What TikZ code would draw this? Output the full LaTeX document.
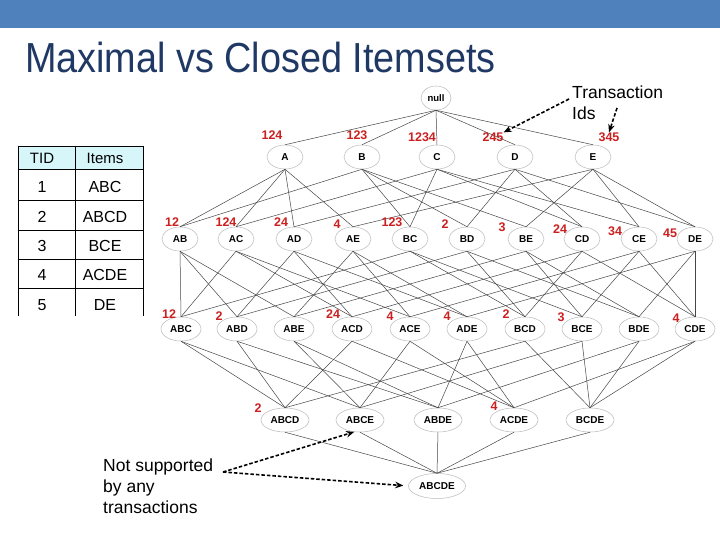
\documentclass[tikz,border=0pt]{standalone}
\usepackage{fontspec}
\setmainfont{Liberation Sans}
\usetikzlibrary{shapes.geometric,arrows.meta}
\definecolor{barblue}{RGB}{79,129,189}
\definecolor{titleblue}{RGB}{31,56,100}
\definecolor{hdrcyan}{RGB}{214,246,250}
\definecolor{tidred}{RGB}{204,32,32}
\definecolor{ringgray}{RGB}{185,185,185}
\definecolor{edgegray}{RGB}{70,70,70}
\begin{document}
\begin{tikzpicture}[x=1pt,y=-1pt,
  iset/.style={ellipse,draw=ringgray,line width=0.5pt,inner sep=0pt,minimum height=24pt,font=\fontsize{10}{12}\selectfont\bfseries},
  lone/.style={iset,minimum width=36pt},
  ltwo/.style={iset,minimum width=36pt},
  lthree/.style={iset,minimum width=40pt},
  lfour/.style={iset,minimum width=48pt},
  lfive/.style={iset,minimum width=57pt,minimum height=25pt},
  tid/.style={text=tidred,font=\fontsize{12.5}{14}\selectfont\bfseries,inner sep=0pt},
  edge/.style={draw=edgegray,line width=0.5pt},
  callout/.style={draw=black,line width=1.6pt,dash pattern=on 3.5pt off 2pt,-{Stealth[length=8pt,width=6.5pt]}},
  note/.style={font=\fontsize{17.5}{21}\selectfont,align=left,inner sep=0pt,anchor=base west},
  tabtxt/.style={font=\fontsize{16}{18}\selectfont,inner sep=0pt},
  tabline/.style={draw=black,line width=0.8pt}
]
\useasboundingbox (0,0) rectangle (720,540);
\fill[white] (0,0) rectangle (720,540);
% top bar and title
\fill[barblue] (0,0) rectangle (720,28);
\node[anchor=base west,inner sep=0pt,text=titleblue,xscale=0.9,font=\fontsize{42}{48}\selectfont] (title) at (25,73) {Maximal vs Closed Itemsets};

% table
\fill[hdrcyan] (18,146) rectangle (143,169);
\foreach \yy in {146,169,200,230,259,288} \draw[tabline] (18,\yy) -- (143,\yy);
\foreach \xx in {18,75,143} \draw[tabline] (\xx,146) -- (\xx,316);
\node[tabtxt,font=\fontsize{15}{17}\selectfont] (hTID) at (42,158) {TID};
\node[tabtxt,font=\fontsize{15}{17}\selectfont] (hItems) at (105,158) {Items};
\node[tabtxt] (t1) at (42,187) {1};  \node[tabtxt] (i1) at (105,187) {ABC};
\node[tabtxt] (t2) at (42,217) {2};  \node[tabtxt] (i2) at (105,217) {ABCD};
\node[tabtxt] (t3) at (42,246) {3};  \node[tabtxt] (i3) at (105,246) {BCE};
\node[tabtxt] (t4) at (42,275) {4};  \node[tabtxt] (i4) at (105,275) {ACDE};
\node[tabtxt] (t5) at (42,305) {5};  \node[tabtxt] (i5) at (105,305) {DE};

% lattice nodes
\node[iset,minimum width=30pt,font=\fontsize{9.5}{11}\selectfont\bfseries] (null) at (436,98) {null};
\node[lone] (A) at (285,157) {A};
\node[lone] (B) at (362,157) {B};
\node[lone] (C) at (437,157) {C};
\node[lone] (D) at (515,157) {D};
\node[lone] (E) at (593,157) {E};
\node[ltwo] (AB) at (180,239) {AB};
\node[ltwo] (AC) at (236,239) {AC};
\node[ltwo] (AD) at (294,239) {AD};
\node[ltwo] (AE) at (353,239) {AE};
\node[ltwo] (BC) at (410,239) {BC};
\node[ltwo] (BD) at (467,239) {BD};
\node[ltwo] (BE) at (526,239) {BE};
\node[ltwo] (CD) at (582,239) {CD};
\node[ltwo] (CE) at (639,239) {CE};
\node[ltwo] (DE) at (695,239) {DE};
\node[lthree] (ABC) at (181,329) {ABC};
\node[lthree] (ABD) at (237,329) {ABD};
\node[lthree] (ABE) at (294,329) {ABE};
\node[lthree] (ACD) at (352,329) {ACD};
\node[lthree] (ACE) at (410,329) {ACE};
\node[lthree] (ADE) at (467,329) {ADE};
\node[lthree] (BCD) at (525,329) {BCD};
\node[lthree] (BCE) at (582,329) {BCE};
\node[lthree] (BDE) at (639,329) {BDE};
\node[lthree] (CDE) at (695,329) {CDE};
\node[lfour] (ABCD) at (285,420) {ABCD};
\node[lfour] (ABCE) at (360,420) {ABCE};
\node[lfour] (ABDE) at (438,420) {ABDE};
\node[lfour] (ACDE) at (514,420) {ACDE};
\node[lfour] (BCDE) at (590,420) {BCDE};
\node[lfive] (ABCDE) at (437,486) {ABCDE};

% lattice edges
\foreach \c in {A,B,C,D,E} \draw[edge] (null.south) -- (\c.north);
\foreach \p/\c in {A/AB,A/AC,A/AD,A/AE,B/AB,B/BC,B/BD,B/BE,C/AC,C/BC,C/CD,C/CE,D/AD,D/BD,D/CD,D/DE,E/AE,E/BE,E/CE,E/DE}
  \draw[edge] (\p.south) -- (\c.north);
\foreach \p/\c in {AB/ABC,AB/ABD,AB/ABE,AC/ABC,AC/ACD,AC/ACE,AD/ABD,AD/ACD,AD/ADE,AE/ABE,AE/ACE,AE/ADE,BC/ABC,BC/BCD,BC/BCE,BD/ABD,BD/BCD,BD/BDE,BE/ABE,BE/BCE,BE/BDE,CD/ACD,CD/BCD,CD/CDE,CE/ACE,CE/BCE,CE/CDE,DE/ADE,DE/BDE,DE/CDE}
  \draw[edge] (\p.south) -- (\c.north);
\foreach \p/\c in {ABC/ABCD,ABC/ABCE,ABD/ABCD,ABD/ABDE,ABE/ABCE,ABE/ABDE,ACD/ABCD,ACD/ACDE,ACE/ABCE,ACE/ACDE,ADE/ABDE,ADE/ACDE,BCD/ABCD,BCD/BCDE,BCE/ABCE,BCE/BCDE,BDE/ABDE,BDE/BCDE,CDE/ACDE,CDE/BCDE}
  \draw[edge] (\p.south) -- (\c.north);
\foreach \p in {ABCD,ABCE,ABDE,ACDE,BCDE} \draw[edge] (\p.south) -- (ABCDE.north);

% transaction id labels
\node[tid] (lA) at (272,135) {124};
\node[tid] (lB) at (357,135) {123};
\node[tid] (lC) at (422,137) {1234};
\node[tid] (lD) at (493,137) {245};
\node[tid] (lE) at (609,137) {345};
\node[tid] (lAB) at (172,222) {12};
\node[tid] (lAC) at (226,222) {124};
\node[tid] (lAD) at (281,222) {24};
\node[tid] (lAE) at (337,224) {4};
\node[tid] (lBC) at (392,222) {123};
\node[tid] (lBD) at (445,224) {2};
\node[tid] (lBE) at (502,227) {3};
\node[tid] (lCD) at (560,229) {24};
\node[tid] (lCE) at (615,231) {34};
\node[tid] (lDE) at (670,233) {45};
\node[tid] (lABC) at (169,314) {12};
\node[tid] (lABD) at (219,316) {2};
\node[tid] (lACD) at (333,314) {24};
\node[tid] (lACE) at (390,316) {4};
\node[tid] (lADE) at (447,316) {4};
\node[tid] (lBCD) at (506,314) {2};
\node[tid] (lBCE) at (561,317) {3};
\node[tid] (lCDE) at (676,318) {4};
\node[tid] (lABCD) at (258,408) {2};
\node[tid] (lACDE) at (494,406) {4};

% notes
\node[note] (trans) at (572,120) {Transaction\\Ids};
\coordinate (tstart) at (569,99);
\coordinate (tstart2) at (617,108);
\draw[callout] (tstart) -- (lD.north east);
\draw[callout] (tstart2) -- (lE.north);
\node[note] (notsup) at (103,513) {Not supported\\by any\\transactions};
\coordinate (nstart) at (223,472);
\draw[callout] (nstart) -- (ABCE.244);
\draw[callout,shorten >=5pt] (nstart) -- (ABCDE.west);
\end{tikzpicture}
\end{document}
